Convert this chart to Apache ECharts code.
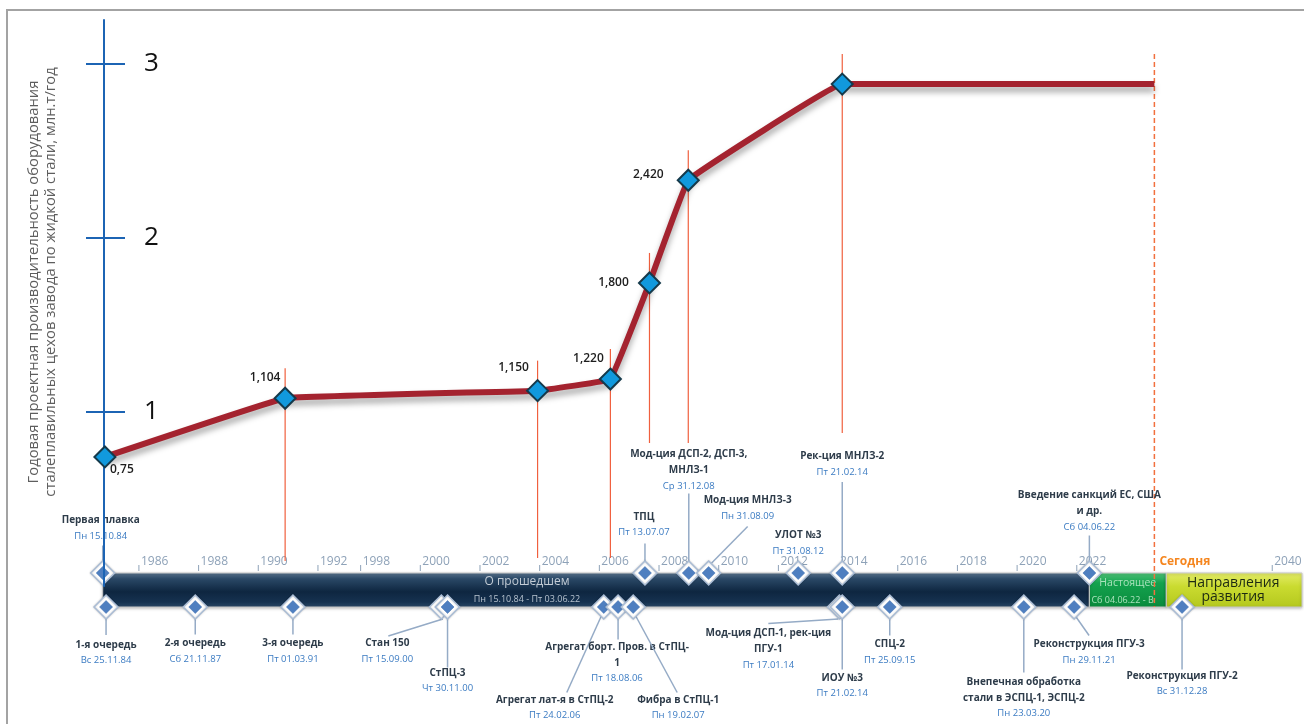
<!DOCTYPE html>
<html><head><meta charset="utf-8">
<script src="https://cdn.jsdelivr.net/npm/echarts@6/dist/echarts.min.js"></script>
<style>html,body{margin:0;padding:0;background:#fff;}#chart{width:1304px;height:724px;}</style>
</head><body><div id="chart"></div>
<script>
// ===== DATA =====
const Y_TICKS = [1, 2, 3];
const LINE_YEARS  = [1984.86, 1990.90, 2003.93, 2006.37, 2007.68, 2008.98, 2014.14, 2024.6];
const LINE_VALUES = [0.75, 1.104, 1.150, 1.220, 1.800, 2.420, 3.0, 3.0];
const TIMELINE_TICKS = [1986,1988,1990,1992,1998,2000,2002,2004,2006,2008,2010,2012,2014,2016,2018,2020,2022,2040];
const TODAY_YEAR = 2024.6;
const TODAY_LABEL = 'Сегодня';
const PERIOD_TITLES = ['О прошедшем', 'Настоящее', 'Направления\nразвития'];
const PERIOD_RANGES = ['Пн 15.10.84 - Пт 03.06.22', 'Сб 04.06.22 - Вт 31.12.24', ''];
const PERIOD_STARTS = ['15.10.84', '04.06.22', '01.01.25'];
const PERIOD_ENDS   = ['03.06.22', '31.12.24', '31.12.40'];
const EVENT_TITLES = [
  'Первая плавка', 'ТПЦ', 'Мод-ция ДСП-2, ДСП-3,\nМНЛЗ-1', 'Мод-ция МНЛЗ-3', 'УЛОТ №3', 'Рек-ция МНЛЗ-2', 'Введение санкций ЕС, США\nи др.',
  '1-я очередь', '2-я очередь', '3-я очередь', 'Стан 150', 'СтПЦ-3', 'Агрегат лат-я в СтПЦ-2', 'Агрегат борт. Пров. в СтПЦ-\n1',
  'Фибра в СтПЦ-1', 'Мод-ция ДСП-1, рек-ция\nПГУ-1', 'ИОУ №3', 'СПЦ-2', 'Внепечная обработка\nстали в ЭСПЦ-1, ЭСПЦ-2',
  'Реконструкция ПГУ-3', 'Реконструкция ПГУ-2'
];
const EVENT_DATES = [
  'Пн 15.10.84', 'Пт 13.07.07', 'Ср 31.12.08', 'Пн 31.08.09', 'Пт 31.08.12', 'Пт 21.02.14', 'Сб 04.06.22',
  'Вс 25.11.84', 'Сб 21.11.87', 'Пт 01.03.91', 'Пт 15.09.00', 'Чт 30.11.00', 'Пт 24.02.06', 'Пт 18.08.06',
  'Пн 19.02.07', 'Пт 17.01.14', 'Пт 21.02.14', 'Пт 25.09.15', 'Пн 23.03.20', 'Пн 29.11.21', 'Вс 31.12.28'
];
const EVENT_SIDES = ['above','above','above','above','above','above','above',
  'below','below','below','below','below','below','below','below','below','below','below','below','below','below'];

// ===== LAYOUT (offsets, styles) =====
const FONT = '"Open Sans","Noto Sans",sans-serif';
const BAR_TOP = 573, BAR_BOTTOM = 607;
// label center offset [dx, dy] and connector [sx, sy, ex, ey], relative to marker centre
const EVENT_LAYOUT = [
  [-2,-52.5, 0,-10, 0,-27.5], [-1,-56, 0,-10, 0,-29.5], [0,-118.5, 0,-10, 0,-79.5], [39,-72.5, 3,-10, 39,-46.5],
  [0,-37.5, 0,0, 0,0], [0,-116.5, 0,-10, 0,-91], [0,-77.5, 0,-10, 0,-37.5],
  [0,38, 0,10, 0,28], [0,36.5, 0,10, 0,27.5], [0,36.5, 0,10, 0,27.5], [-54,36.5, 1.5,12, -53,29],
  [0,66, 0,10, 0,60.5], [-49,93, -2,8, -37,85.5], [-1,40, 0,10, 0,32.5], [45,93, 2,8, 44,85.5],
  [-71,26.5, -1,12, -71,16.5], [0,71, 0,10, 0,62.5], [0,37.5, 0,10, 0,28.5], [0,75, 0,10, 0,65.5],
  [15,37.5, 2,10, 15,28.5], [0,69, 0,10, 0,62.5]
];
const LABEL_OFFSETS = [[17,13],[-20,-21],[-24,-23],[-22,-20],[-36,0],[-40,-6],null,null];
const DROP_BOTTOMS = [null, 561, 558, 558, 443, 443, 433, null];

function decYear(s){
  const m = s.match(/(\d\d)\.(\d\d)\.(\d\d)/);
  const yy = +m[3], y = yy >= 50 ? 1900 + yy : 2000 + yy;
  const t0 = Date.UTC(y,0,1), t1 = Date.UTC(y+1,0,1);
  return y + (Date.UTC(y, +m[2]-1, +m[1]) - t0) / (t1 - t0);
}
function diamond(cx, cy, r){ return [[cx,cy-r],[cx+r,cy],[cx,cy+r],[cx-r,cy]]; }
function fmtVal(v){ return (v < 1 ? v.toFixed(2) : v.toFixed(3)).replace('.', ','); }

const chart = echarts.init(document.getElementById('chart'), null, {renderer:'canvas'});
const G = echarts.graphic;

const periodFills = [
  new G.LinearGradient(0,0,0,1,[{offset:0,color:'#5d7892'},{offset:0.18,color:'#2a4866'},{offset:0.55,color:'#0e2640'},{offset:0.85,color:'#163250'},{offset:1,color:'#2c4a68'}]),
  new G.LinearGradient(0,0,0,1,[{offset:0,color:'#52c47a'},{offset:0.3,color:'#13a24e'},{offset:1,color:'#0a8a3c'}]),
  new G.LinearGradient(0,0,0,1,[{offset:0,color:'#e4ec6a'},{offset:0.4,color:'#cadb30'},{offset:1,color:'#b4c81e'}])
];

const option = {
  animation: false,
  backgroundColor: '#fff',
  grid: { left: 104, right: 4, top: 20, bottom: 138 },
  graphic: [
    { type:'rect', shape:{x:7, y:10, width:1400, height:800}, style:{fill:'none', stroke:'#a3a3a3', lineWidth:2}, z:0 },
    { type:'text', x:42, y:282, rotation: Math.PI/2,
      style:{ text:'Годовая проектная производительность оборудования\nсталеплавильных цехов завода по жидкой стали, млн.т/год',
        fontFamily: FONT, fontSize: 14.8, fill:'#5e5e5e', align:'center', verticalAlign:'middle', lineHeight:17 } }
  ],
  xAxis: {
    type: 'value', min: 1984.83, max: 2040.93,
    breaks: [ {start:1992, end:1998, gap:1.43}, {start:2025, end:2028.8, gap:0.33}, {start:2029.2, end:2040, gap:2.82} ],
    breakArea: { show:false, itemStyle:{opacity:0} },
    axisLine:{show:false}, axisTick:{show:false}, axisLabel:{show:false}, splitLine:{show:false}
  },
  yAxis: [
    { type:'value', position:'left', min:0, max:3.2529, interval:1, z:4.5,
      axisLine:{show:true, lineStyle:{color:'#1c64b4', width:2}},
      axisTick:{show:true, inside:false, length:18, customValues: Y_TICKS, lineStyle:{color:'#1c64b4', width:2}},
      axisLabel:{show:true, inside:true, margin:40, customValues: Y_TICKS, color:'#111', fontSize:26, fontFamily:FONT},
      splitLine:{show:false} },
    { type:'value', position:'left', min:-0.029, max:3.387, show:false },
    { type:'value', position:'left', offset:0, min:0, max:3.2529, interval:1, z:4.5,
      axisLine:{show:false},
      axisTick:{show:true, inside:true, length:21, customValues: Y_TICKS, lineStyle:{color:'#1c64b4', width:2}},
      axisLabel:{show:false}, splitLine:{show:false} }
  ],
  series: [
    { // timeline periods
      type:'custom', xAxisIndex:0, yAxisIndex:1, z:1, silent:true,
      data: PERIOD_STARTS.map((s,i)=>[decYear(s), decYear(PERIOD_ENDS[i]), i]),
      renderItem(params, api){
        const i = api.value(2);
        const x0 = api.coord([api.value(0),0])[0], x1 = api.coord([api.value(1),0])[0];
        const ch = [{type:'rect', shape:{x:x0, y:BAR_TOP, width:x1-x0, height:BAR_BOTTOM-BAR_TOP},
          style:{fill:periodFills[i], stroke:'#c9c9c9', lineWidth:1, shadowColor:'rgba(0,0,0,0.25)', shadowBlur:3, shadowOffsetY:1}}];
        if (i === 0) {
          const cx = x0 + 0.43*(x1-x0);
          ch.push({type:'text', x:cx, y:582, style:{text:PERIOD_TITLES[i], fontFamily:FONT, fontSize:12, fill:'#c3ccd6', align:'center', verticalAlign:'middle'}});
          ch.push({type:'text', x:cx, y:599, style:{text:PERIOD_RANGES[i], fontFamily:FONT, fontSize:9, fill:'#b6c2ce', align:'center', verticalAlign:'middle'}});
        } else if (i === 1) {
          ch.push({type:'text', x:(x0+x1)/2, y:583, style:{text:PERIOD_TITLES[i], fontFamily:FONT, fontSize:10.5, fill:'#a8e2bb', align:'center', verticalAlign:'middle'}});
          ch.push({type:'text', x:x0+2, y:600, style:{text:PERIOD_RANGES[i], fontFamily:FONT, fontSize:9, fill:'#a8e2bb', align:'left', verticalAlign:'middle', width:x1-x0-4, overflow:'truncate', ellipsis:''}});
        } else {
          ch.push({type:'text', x:(x0+Math.min(x1,1300))/2, y:590, style:{text:PERIOD_TITLES[i], fontFamily:FONT, fontSize:14, lineHeight:14, fill:'#1d2a12', align:'center', verticalAlign:'middle'}});
        }
        return {type:'group', children:ch};
      }
    },
    { // timeline year ticks
      type:'custom', xAxisIndex:0, yAxisIndex:1, z:2, silent:true,
      data: TIMELINE_TICKS.map(y=>[y,0]),
      renderItem(params, api){
        const x = api.coord([api.value(0),0])[0];
        return {type:'group', children:[
          {type:'line', shape:{x1:x, y1:565, x2:x, y2:571}, style:{stroke:'#8ea2b8', lineWidth:1}},
          {type:'text', x:x+2, y:562, style:{text:String(api.value(0)), fontFamily:FONT, fontSize:12, fill:'#8ea2b8', align:'left', verticalAlign:'middle'}}
        ]};
      }
    },
    { // drop lines from capacity points
      type:'custom', xAxisIndex:0, yAxisIndex:1, z:2, silent:true,
      data: LINE_YEARS.map((y,i)=>[y, LINE_VALUES[i], i]).filter(d=>DROP_BOTTOMS[d[2]] !== null),
      renderItem(params, api){
        const p = api.coord([api.value(0), api.value(1)]);
        const b = DROP_BOTTOMS[api.value(2)];
        return {type:'line', shape:{x1:p[0], y1:p[1]-30, x2:p[0], y2:b}, style:{stroke:'#f0603e', lineWidth:1.2}};
      }
    },
    { // today line
      type:'custom', xAxisIndex:0, yAxisIndex:1, z:3, silent:true,
      data: [[TODAY_YEAR, LINE_VALUES[LINE_VALUES.length-1]]],
      renderItem(params, api){
        const p = api.coord([api.value(0), api.value(1)]);
        return {type:'group', children:[
          {type:'line', shape:{x1:p[0], y1:p[1]-30, x2:p[0], y2:BAR_BOTTOM}, style:{stroke:'#f2703e', lineWidth:1.5, lineDash:[5,3]}},
          {type:'text', x:p[0]+5, y:562, style:{text:TODAY_LABEL, fontFamily:FONT, fontSize:12, fontWeight:'bold', fill:'#f5861f', align:'left', verticalAlign:'middle'}}
        ]};
      }
    },
    { // events
      type:'custom', xAxisIndex:0, yAxisIndex:1, z:4, silent:true,
      data: EVENT_DATES.map((d,i)=>[decYear(d), 0, i]),
      renderItem(params, api){
        const i = api.value(2);
        const x = api.coord([api.value(0),0])[0];
        const y = EVENT_SIDES[i] === 'above' ? BAR_TOP : BAR_BOTTOM;
        const L = EVENT_LAYOUT[i];
        const ch = [];
        if (L[5] !== 0) ch.push({type:'line', shape:{x1:x+L[2], y1:y+L[3], x2:x+L[4], y2:y+L[5]}, style:{stroke:'#95abc6', lineWidth:1.5}});
        ch.push({type:'polygon', shape:{points:diamond(x,y,12)}, style:{fill:'#fff', stroke:'#a9bcd5', lineWidth:1.5, shadowColor:'rgba(0,0,0,0.2)', shadowBlur:2}});
        ch.push({type:'polygon', shape:{points:diamond(x,y,6.5)}, style:{fill:'#4f7fc0', stroke:'#3f6ead', lineWidth:0.5}});
        const lines = EVENT_TITLES[i].split('\n');
        lines.forEach((t,k)=>ch.push({type:'text', x:x+L[0], y:y+L[1]+k*16,
          style:{text:t, fontFamily:FONT, fontSize:10, fontWeight:'bold', fill:'#2e3c4a', align:'center', verticalAlign:'middle'}}));
        ch.push({type:'text', x:x+L[0], y:y+L[1]+(lines.length-1)*16+15.5,
          style:{text:EVENT_DATES[i], fontFamily:FONT, fontSize:9.5, fill:'#3b7bc2', align:'center', verticalAlign:'middle'}});
        return {type:'group', children:ch};
      }
    },
    { // capacity line
      type:'line', xAxisIndex:0, yAxisIndex:1, z:5, clip:false,
      smooth:0.05,
      symbol:'diamond', symbolSize:21,
      lineStyle:{color:'#a4232f', width:6, shadowColor:'rgba(0,0,0,0.35)', shadowBlur:6, shadowOffsetY:5},
      itemStyle:{color:'#1199dd', borderColor:'#153a4b', borderWidth:2},
      data: LINE_YEARS.map((x,i)=>{
        const o = LABEL_OFFSETS[i];
        const item = {value:[x, LINE_VALUES[i]]};
        if (o) item.label = {show:true, position:'inside', offset:o, formatter: fmtVal(LINE_VALUES[i]),
          fontFamily:FONT, fontSize:12, fontWeight:600, color:'#1d1d1d'};
        else item.label = {show:false};
        if (i === LINE_YEARS.length-1) { item.symbol = 'none'; }
        return item;
      })
    }
  ]
};
chart.setOption(option);
</script></body></html>
